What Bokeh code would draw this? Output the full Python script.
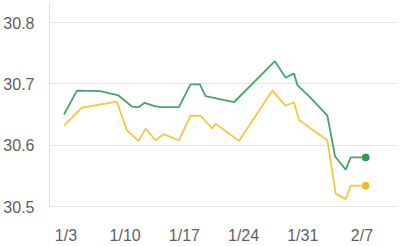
from bokeh.plotting import figure
from bokeh.models import FixedTicker, Range1d
from bokeh.embed import file_html
from bokeh.resources import INLINE

# x = days since 1/3
tick_days = [0, 7, 14, 21, 28, 35]
tick_labels = ["1/3", "1/10", "1/17", "1/24", "1/31", "2/7"]
y_ticks = [30.5, 30.6, 30.7, 30.8]

green_days = [-0.24, 1.30, 4.05, 6.21, 7.79, 8.58, 9.29, 10.39, 11.18, 13.35, 14.73,
              15.83, 16.51, 19.86, 24.71, 25.98, 26.96, 27.36, 28.73, 30.91, 31.81,
              33.08, 33.67, 35.44]
green_vals = [30.650, 30.689, 30.688, 30.681, 30.663, 30.662, 30.669, 30.664, 30.662,
              30.662, 30.699, 30.699, 30.680, 30.670, 30.737, 30.710, 30.717, 30.698,
              30.680, 30.648, 30.582, 30.560, 30.580, 30.580]

yellow_days = [-0.24, 1.87, 6.01, 7.20, 8.58, 9.41, 10.59, 11.54, 13.35, 14.73, 15.92,
               17.30, 17.69, 20.45, 24.40, 25.98, 26.96, 27.55, 30.91, 31.89, 33.08,
               33.67, 35.44]
yellow_vals = [30.632, 30.661, 30.671, 30.624, 30.607, 30.627, 30.608, 30.618, 30.608,
               30.648, 30.648, 30.627, 30.635, 30.607, 30.689, 30.664, 30.670, 30.641,
               30.608, 30.521, 30.512, 30.534, 30.534]

GREEN = "#47a46a"
YELLOW = "#f5c842"

p = figure(width=402, height=246, output_backend="svg", toolbar_location=None,
           x_range=Range1d(-1.95, 39.2), y_range=Range1d(30.5, 30.831),
           min_border_left=49, min_border_right=5, min_border_top=3, min_border_bottom=35)
p.outline_line_color = None
p.background_fill_color = "white"
p.border_fill_color = "white"

p.line(green_days, green_vals, line_color=GREEN, line_width=1.8)
p.line(yellow_days, yellow_vals, line_color=YELLOW, line_width=1.8)
p.scatter([green_days[-1]], [green_vals[-1]], size=7, fill_color="#2f9a50", line_color="#2f9a50")
p.scatter([yellow_days[-1]], [yellow_vals[-1]], size=7, fill_color="#f2b920", line_color="#f2b920")

p.xgrid.grid_line_color = None
p.ygrid.grid_line_color = "#e6e6e6"
p.ygrid.grid_line_width = 1

p.xaxis.ticker = FixedTicker(ticks=tick_days)
p.xaxis.major_label_overrides = {d: l for d, l in zip(tick_days, tick_labels)}
p.yaxis.ticker = FixedTicker(ticks=y_ticks)
p.yaxis.major_label_overrides = {v: f"{v:.1f}" for v in y_ticks}

for ax in (p.xaxis, p.yaxis):
    ax.major_tick_line_color = None
    ax.minor_tick_line_color = None
    ax.major_label_text_font = "Liberation Sans"
    ax.major_label_text_font_size = "16px"
    ax.major_label_text_color = "#5f5f5f"

p.xaxis.axis_line_color = "#e6e6e6"
p.yaxis.axis_line_color = "#e0e0e0"
p.xaxis.major_label_standoff = 14
p.yaxis.major_label_standoff = 9

open("out.html", "w").write(file_html(p, INLINE))
